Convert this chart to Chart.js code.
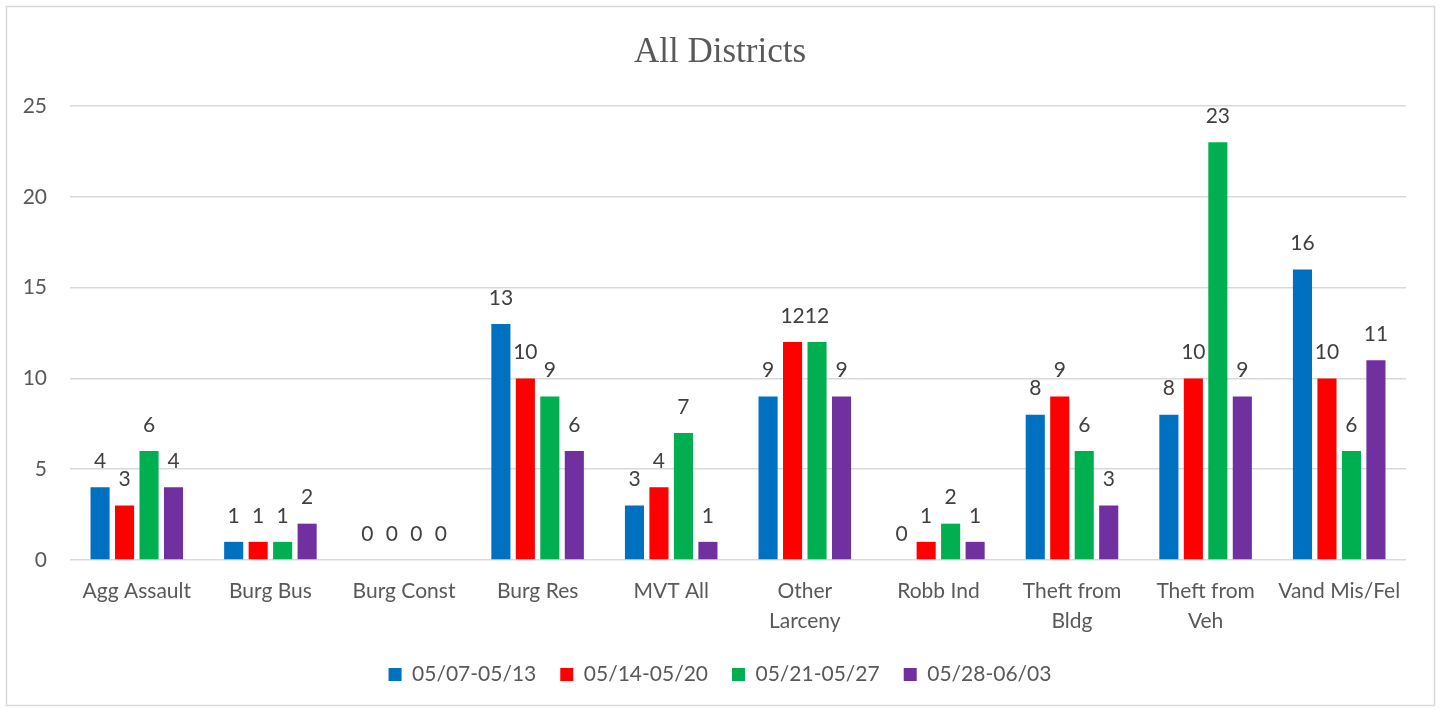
<!DOCTYPE html>
<html>
<head>
<meta charset="utf-8">
<script src="https://cdn.jsdelivr.net/npm/chart.js@4"></script>
<style>
html,body{margin:0;padding:0;background:#fff;}
#wrap{position:absolute;left:0;top:0;width:1440px;height:709px;}
</style>
</head>
<body>
<div id="wrap"><canvas id="c" width="1440" height="709"></canvas></div>
<script>
const categories = ["Agg Assault","Burg Bus","Burg Const","Burg Res","MVT All",["Other","Larceny"],"Robb Ind",["Theft from","Bldg"],["Theft from","Veh"],"Vand Mis/Fel"];
const seriesNames = ["05/07-05/13","05/14-05/20","05/21-05/27","05/28-06/03"];
const week1 = [4,1,0,13,3,9,0,8,8,16];
const week2 = [3,1,0,10,4,12,1,9,10,10];
const week3 = [6,1,0,9,7,12,2,6,23,6];
const week4 = [4,2,0,6,1,9,1,3,9,11];
const yTicks = [0,5,10,15,20,25];
const colors = ["#0070C0","#FF0000","#00B050","#7030A0"];

const TXT = "#595959";
const SANS = "Lato, 'Open Sans', sans-serif";
const FS = 21;

const borderPlugin = {
  id:'border',
  beforeDraw(chart){
    const ctx = chart.ctx;
    ctx.save();
    ctx.fillStyle = '#fff';
    ctx.fillRect(0,0,chart.width,chart.height);
    ctx.strokeStyle = '#d9d9d9';
    ctx.lineWidth = 1.5;
    ctx.strokeRect(6.5,6.5,1428,699);
    ctx.restore();
  }
};
const labelPlugin = {
  id:'valueLabels',
  afterDatasetsDraw(chart){
    const ctx = chart.ctx;
    ctx.save();
    ctx.font = FS + "px " + SANS;
    ctx.fillStyle = "#404040";
    ctx.textAlign = 'center';
    ctx.textBaseline = 'middle';
    chart.data.datasets.forEach((ds,i)=>{
      const meta = chart.getDatasetMeta(i);
      meta.data.forEach((bar,j)=>{
        ctx.fillText(String(ds.data[j]), bar.x, bar.y - 26);
      });
    });
    ctx.restore();
  }
};

new Chart(document.getElementById('c'), {
  type:'bar',
  data:{
    labels: categories,
    datasets: [week1,week2,week3,week4].map((d,i)=>({
      label: seriesNames[i],
      data: d,
      backgroundColor: colors[i],
      borderWidth: 0,
      categoryPercentage: 0.733,
      barPercentage: 0.78
    }))
  },
  options:{
    responsive:false,
    animation:false,
    layout:{padding:{left:0,right:0,top:0,bottom:14}},
    plugins:{
      title:{display:true,text:'All Districts',color:TXT,
        font:{family:"'Liberation Serif', serif",size:35,weight:'normal'},
        padding:{top:32,bottom:32}},
      legend:{position:'bottom',
        labels:{color:TXT,font:{family:SANS,size:FS},boxWidth:13,boxHeight:13,padding:24}},
      tooltip:{enabled:false}
    },
    scales:{
      x:{
        grid:{display:false,drawTicks:false},
        border:{display:false},
        afterFit(scale){ scale.height = 80; },
        ticks:{color:TXT,font:{family:SANS,size:FS,lineHeight:1.43},padding:16,maxRotation:0,autoSkip:false}
      },
      y:{
        min:0,max:25,
        afterBuildTicks(scale){ scale.ticks = yTicks.map(v=>({value:v})); },
        afterFit(scale){ scale.width = 70; },
        grid:{color:'#d9d9d9',lineWidth:1.5,drawTicks:false},
        border:{display:false},
        ticks:{color:TXT,font:{family:SANS,size:FS},padding:23}
      },
      yRight:{
        position:'right',
        display:true,
        min:0,max:25,
        afterFit(scale){ scale.width = 34; },
        grid:{display:false,drawTicks:false},
        border:{display:false},
        ticks:{display:false}
      }
    }
  },
  plugins:[borderPlugin,labelPlugin]
});
</script>
</body>
</html>
